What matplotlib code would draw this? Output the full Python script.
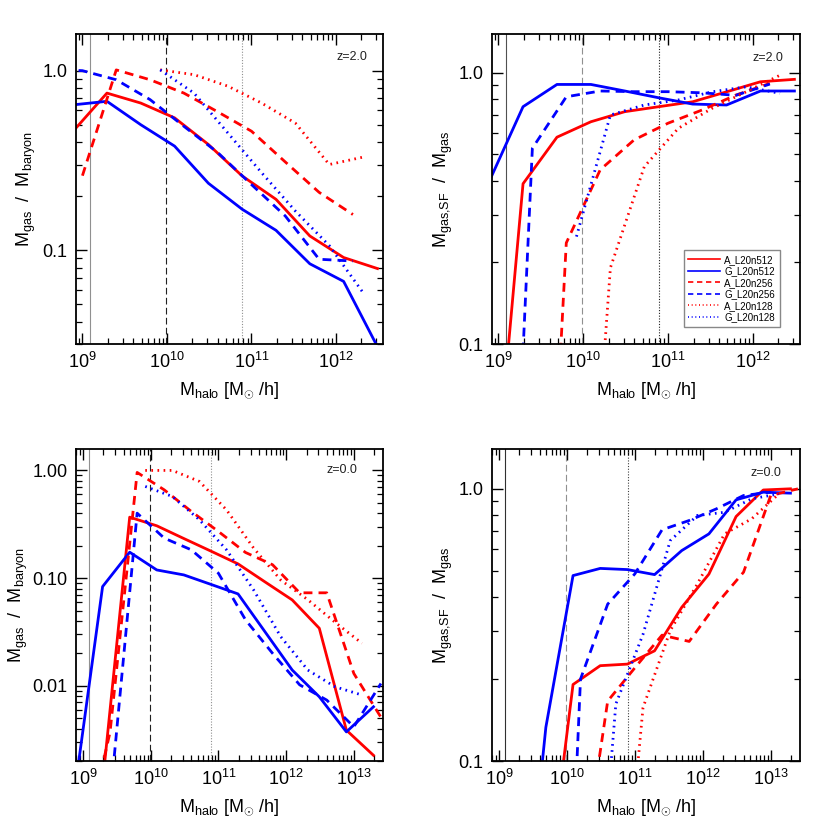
import numpy as np
import matplotlib
matplotlib.use("Agg")
import matplotlib.pyplot as plt
from matplotlib.ticker import FixedLocator, FixedFormatter, LogLocator, NullFormatter

plt.rcParams['font.family'] = ['Liberation Sans', 'DejaVu Sans']
plt.rcParams['mathtext.fontset'] = 'custom'
plt.rcParams['mathtext.rm'] = 'Liberation Sans'
plt.rcParams['mathtext.it'] = 'Liberation Sans:italic'
plt.rcParams['mathtext.bf'] = 'Liberation Sans:bold'

nan = np.nan

# halo mass bins, log10(M_halo [Msun/h])
lgm_512 = [8.89, 9.29, 9.69, 10.09, 10.49, 10.89, 11.29, 11.69, 12.09, 12.49, 12.89, 13.29]
lgm_256 = [8.6, 9.0, 9.4, 9.8, 10.2, 10.6, 11.0, 11.4, 11.8, 12.2, 12.6, 13.0, 13.4]
lgm_128 = [9.92, 10.32, 10.72, 11.12, 11.52, 11.92, 12.32, 12.72, 13.12]

# z=2 : M_gas / M_baryon
fgas_z2_A512 = [0.46, 0.75, 0.66, 0.546, 0.388, 0.259, 0.192, 0.12, 0.091, 0.079, nan, nan]
fgas_z2_G512 = [0.645, 0.675, 0.50, 0.38, 0.236, 0.169, 0.129, 0.084, 0.067, 0.029, nan, nan]
fgas_z2_A256 = [nan, 0.26, 1.01, 0.89, 0.75, 0.59, 0.46, 0.31, 0.21, 0.158, nan, nan, nan]
fgas_z2_G256 = [1.02, 1.0, 0.89, 0.69, 0.49, 0.35, 0.232, 0.155, 0.089, 0.087, nan, nan, nan]
fgas_z2_A128 = [1.01, 0.95, 0.82, 0.66, 0.51, 0.30, 0.33, nan, nan]
fgas_z2_G128 = [1.01, 0.75, 0.45, 0.27, 0.165, 0.106, 0.058, nan, nan]

# z=2 : M_gas,SF / M_gas
fsf_z2_A512 = [0.016, 0.39, 0.579, 0.66, 0.719, 0.75, 0.782, 0.851, 0.927, 0.946, nan, nan]
fsf_z2_G512 = [0.397, 0.75, 0.906, 0.906, 0.857, 0.809, 0.767, 0.761, 0.857, 0.857, nan, nan]
fsf_z2_A256 = [nan, nan, 0.001, 0.236, 0.439, 0.566, 0.652, 0.729, 0.828, 0.914, nan, nan, nan]
fsf_z2_G256 = [nan, 0.001, 0.527, 0.816, 0.857, 0.852, 0.852, 0.844, 0.826, 0.909, nan, nan, nan]
fsf_z2_A128 = [0.0034, 0.191, 0.451, 0.624, 0.740, 0.851, 0.98, nan, nan]
fsf_z2_G128 = [0.249, 0.699, 0.761, 0.794, 0.851, 0.888, 0.84, nan, nan]

# z=0 : M_gas / M_baryon
fgas_z0_A512 = [nan, 0.00125, 0.368, 0.306, 0.233, 0.178, 0.1355, 0.092, 0.0627, 0.0342, 0.00387, 0.00226]
fgas_z0_G512 = [0.0012, 0.0834, 0.174, 0.119, 0.107, 0.0874, 0.0713, 0.0316, 0.014, 0.0079, 0.00373, 0.00638]
fgas_z0_A256 = [nan, 0.0003, 0.0037, 0.958, 0.66, 0.416, 0.271, 0.173, 0.133, 0.073, 0.073, 0.013, 0.0051]
fgas_z0_G256 = [nan, nan, 0.00085, 0.401, 0.235, 0.183, 0.111, 0.041, 0.02, 0.0102, 0.00736, 0.00416, 0.0105]
fgas_z0_A128 = [1.0, 1.0, 0.79, 0.43, 0.19, 0.096, 0.063, 0.039, 0.0248]
fgas_z0_G128 = [0.71, 0.573, 0.348, 0.183, 0.0776, 0.0286, 0.014, 0.0098, 0.0082]

# z=0 : M_gas,SF / M_gas
fsf_z0_A512 = [nan, nan, 0.03, 0.191, 0.224, 0.227, 0.254, 0.367, 0.486, 0.791, 0.99, 1.0]
fsf_z0_G512 = [nan, 0.014, 0.133, 0.48, 0.51, 0.505, 0.484, 0.593, 0.683, 0.911, 0.972, 0.964]
fsf_z0_A256 = [nan, nan, nan, nan, 0.035, 0.166, 0.22, 0.29, 0.275, 0.377, 0.494, 0.945, 1.0]
fsf_z0_G256 = [nan, nan, nan, 0.001, 0.20, 0.377, 0.487, 0.707, 0.765, 0.844, 0.945, 0.972, nan]
fsf_z0_A128 = [nan, nan, 0.013, 0.157, 0.301, 0.447, 0.683, 0.776, 0.958]
fsf_z0_G128 = [nan, 0.0095, 0.162, 0.292, 0.645, 0.798, 0.82, 0.919, 0.958]

# resolution limits (vertical lines)
mres = [1.22e9, 9.75e9, 7.8e10]

run_names = ['A_L20n512', 'G_L20n512', 'A_L20n256', 'G_L20n256', 'A_L20n128', 'G_L20n128']

red = '#ff0000'
blue = '#0000ff'
dash = (0, (3.2, 2.2))
dot = (0, (0.6, 1.6))

fig = plt.figure(figsize=(8.3, 8.3), dpi=100)

rects = [[0.0916, 0.5855, 0.3699, 0.3735],
         [0.5928, 0.5855, 0.3711, 0.3735],
         [0.0916, 0.0831, 0.3699, 0.3759],
         [0.5928, 0.0831, 0.3711, 0.3759]]

panels = [
    (fgas_z2_A512, fgas_z2_G512, fgas_z2_A256, fgas_z2_G256, fgas_z2_A128, fgas_z2_G128),
    (fsf_z2_A512, fsf_z2_G512, fsf_z2_A256, fsf_z2_G256, fsf_z2_A128, fsf_z2_G128),
    (fgas_z0_A512, fgas_z0_G512, fgas_z0_A256, fgas_z0_G256, fgas_z0_A128, fgas_z0_G128),
    (fsf_z0_A512, fsf_z0_G512, fsf_z0_A256, fsf_z0_G256, fsf_z0_A128, fsf_z0_G128),
]
xlims = [(8.4e8, 3.6e12), (8.4e8, 3.6e12), (7.9e8, 2.7e13), (7.9e8, 2.7e13)]
ylims = [(0.03, 1.6), (0.1, 1.39), (0.002, 1.58), (0.1, 1.4)]
yticks = [[0.1, 1.0], [0.1, 1.0], [0.01, 0.1, 1.0], [0.1, 1.0]]
yticklabels = [['0.1', '1.0'], ['0.1', '1.0'], ['0.01', '0.10', '1.00'], ['0.1', '1.0']]
zlabels = ['z=2.0', 'z=2.0', 'z=0.0', 'z=0.0']
zpos = [(0.95, 0.925), (0.945, 0.922), (0.915, 0.933), (0.94, 0.923)]
ylabels = [r'$\mathrm{M_{gas}\ \ /\ \ M_{baryon}}$', r'$\mathrm{M_{gas{,}SF}\ \ /\ \ M_{gas}}$',
           r'$\mathrm{M_{gas}\ \ /\ \ M_{baryon}}$', r'$\mathrm{M_{gas{,}SF}\ \ /\ \ M_{gas}}$']
ylabel_x = [-0.124, -0.12, -0.15, -0.12]
# styles of the resolution lines: (solid, dashed, dotted) colours
vcols = [('#909090', '#202020', '#909090'), ('#505050', '#909090', '#202020'),
         ('#909090', '#202020', '#909090'), ('#303030', '#909090', '#404040')]

grids = [lgm_512, lgm_512, lgm_256, lgm_256, lgm_128, lgm_128]
colors = [red, blue, red, blue, red, blue]
styles = ['-', '-', dash, dash, dot, dot]

for i in range(4):
    ax = fig.add_axes(rects[i])
    ax.set_xscale('log')
    ax.set_yscale('log')

    c1, c2, c3 = vcols[i]
    ax.axvline(mres[0], color=c1, lw=0.8, ls='-')
    ax.axvline(mres[1], color=c2, lw=0.8, ls=(0, (6, 3)))
    ax.axvline(mres[2], color=c3, lw=0.8, ls=(0, (1, 1.5)))

    for j in range(6):
        m = 10.0 ** np.array(grids[j])
        ax.plot(m, panels[i][j], color=colors[j], ls=styles[j], lw=2.0)

    ax.set_xlim(*xlims[i])
    ax.set_ylim(*ylims[i])

    ax.xaxis.set_major_locator(LogLocator(base=10, numticks=20))
    ax.xaxis.set_minor_locator(LogLocator(base=10, subs=np.arange(2, 10), numticks=20))
    ax.xaxis.set_minor_formatter(NullFormatter())
    ax.yaxis.set_major_locator(FixedLocator(yticks[i]))
    ax.yaxis.set_major_formatter(FixedFormatter(yticklabels[i]))
    ax.yaxis.set_minor_locator(LogLocator(base=10, subs=np.arange(2, 10), numticks=20))
    ax.yaxis.set_minor_formatter(NullFormatter())

    ax.tick_params(which='both', direction='in', top=True, right=True, labelsize=13)
    ax.tick_params(which='major', length=8, width=1.0, pad=6)
    ax.tick_params(which='minor', length=4, width=0.9)
    for s in ax.spines.values():
        s.set_linewidth(1.3)

    ax.text(zpos[i][0], zpos[i][1], zlabels[i], transform=ax.transAxes,
            ha='right', va='center', fontsize=9, color='#222222')
    ax.set_ylabel(ylabels[i], fontsize=13)
    ax.yaxis.set_label_coords(ylabel_x[i], 0.5)
    ax.set_xlabel(r'$\mathrm{M_{halo}\ [M_{\odot}\ /h]}$', fontsize=13, labelpad=6)

    if i == 1:
        leg_lines = []
        for j in range(6):
            h, = ax.plot([], [], color=colors[j], ls=styles[j], lw=1.2)
            leg_lines.append(h)
        ax.legend(leg_lines, run_names, loc='lower right', bbox_to_anchor=(0.935, 0.055),
                  borderaxespad=0, fontsize=7, handlelength=3.2, handletextpad=0.5,
                  labelspacing=0.15, borderpad=0.5, fancybox=False, framealpha=1,
                  edgecolor='#888888')

fig.savefig('out.png', dpi=100)
